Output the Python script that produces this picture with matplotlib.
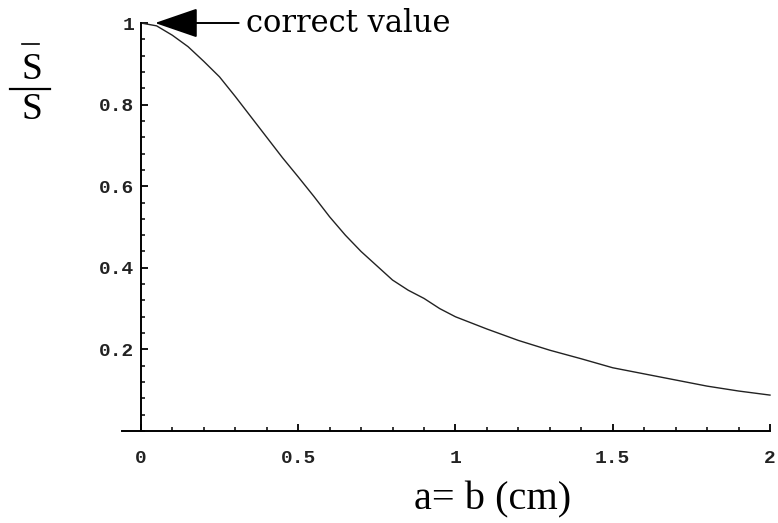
import numpy as np
import matplotlib
matplotlib.use("Agg")
import matplotlib.pyplot as plt
from matplotlib.ticker import MultipleLocator, FixedLocator
from matplotlib.lines import Line2D

# ratio S-bar / S against the side length a = b (cm)
side_cm = [0, 0.05, 0.1, 0.15, 0.2, 0.25, 0.3, 0.35, 0.4, 0.45, 0.5, 0.55,
           0.6, 0.65, 0.7, 0.75, 0.8, 0.85, 0.9, 0.95, 1.0, 1.1, 1.2, 1.3,
           1.4, 1.5, 1.6, 1.7, 1.8, 1.9, 2.0]
ratio = [1.0, 0.993, 0.97, 0.942, 0.906, 0.868, 0.82, 0.77, 0.72, 0.67, 0.623,
         0.575, 0.525, 0.48, 0.44, 0.405, 0.37, 0.345, 0.325, 0.30, 0.28,
         0.25, 0.222, 0.198, 0.177, 0.155, 0.14, 0.125, 0.11, 0.098, 0.088]

x_ticks = [0, 0.5, 1, 1.5, 2]
x_tick_labels = ["0", "0.5", "1", "1.5", "2"]
y_ticks = [0.2, 0.4, 0.6, 0.8, 1.0]
y_tick_labels = ["0.2", "0.4", "0.6", "0.8", "1"]

W, H = 778, 523
fig = plt.figure(figsize=(W / 100, H / 100), dpi=100)
ax = fig.add_axes([122 / W, 1 - 431 / H, 648 / W, 408 / H])

ax.plot(side_cm, ratio, color="#222222", lw=1.0, clip_on=False)

ax.set_xlim(-0.06, 2.0)
ax.set_ylim(0, 1.0)

# axes cross at the origin, Mathematica style
for s in ["top", "right"]:
    ax.spines[s].set_visible(False)
ax.spines["left"].set_position(("data", 0))
ax.spines["left"].set_linewidth(1.4)
ax.spines["bottom"].set_linewidth(1.4)

ax.xaxis.set_major_locator(FixedLocator(x_ticks))
ax.set_xticklabels(x_tick_labels)
ax.xaxis.set_minor_locator(MultipleLocator(0.1))
ax.yaxis.set_major_locator(FixedLocator(y_ticks))
ax.set_yticklabels(y_tick_labels)
ax.yaxis.set_minor_locator(MultipleLocator(0.04))

for lab in ax.get_xticklabels() + ax.get_yticklabels():
    lab.set_fontfamily("Liberation Mono")
    lab.set_fontsize(14)
    lab.set_fontweight("bold")
    lab.set_color("#222222")

ax.tick_params(axis="both", which="major", direction="in", length=5, width=1.3)
ax.tick_params(axis="both", which="minor", direction="in", length=3, width=1.1)
ax.tick_params(axis="x", which="major", pad=14)
ax.tick_params(axis="y", which="major", pad=5)

# arrow pointing at the start of the curve
ax.annotate("correct value", xy=(0.045, 1.0), xytext=(0.333, 1.0),
            textcoords="data", ha="left", va="center",
            fontsize=22, family="DejaVu Serif",
            arrowprops=dict(arrowstyle="-|>,head_length=1.6,head_width=0.55",
                            color="black", lw=1.4, mutation_scale=17,
                            shrinkA=3, shrinkB=0),
            annotation_clip=False)

# x label
fig.text(493 / W, 1 - 500 / H, "a= b (cm)", ha="center", va="center",
         fontsize=29, family="Liberation Serif")

# y label drawn as a fraction S-bar over S
fig.text(32 / W, 1 - 70 / H, "S", ha="center", va="center",
         fontsize=27, family="Liberation Serif")
fig.text(32 / W, 1 - 110 / H, "S", ha="center", va="center",
         fontsize=27, family="Liberation Serif")
fig.add_artist(Line2D([10 / W, 50 / W], [1 - 89 / H, 1 - 89 / H],
                      color="black", lw=1.6, transform=fig.transFigure))
fig.add_artist(Line2D([22 / W, 39 / W], [1 - 44 / H, 1 - 44 / H],
                      color="black", lw=1.2, transform=fig.transFigure))

fig.savefig("out.png", dpi=100)
